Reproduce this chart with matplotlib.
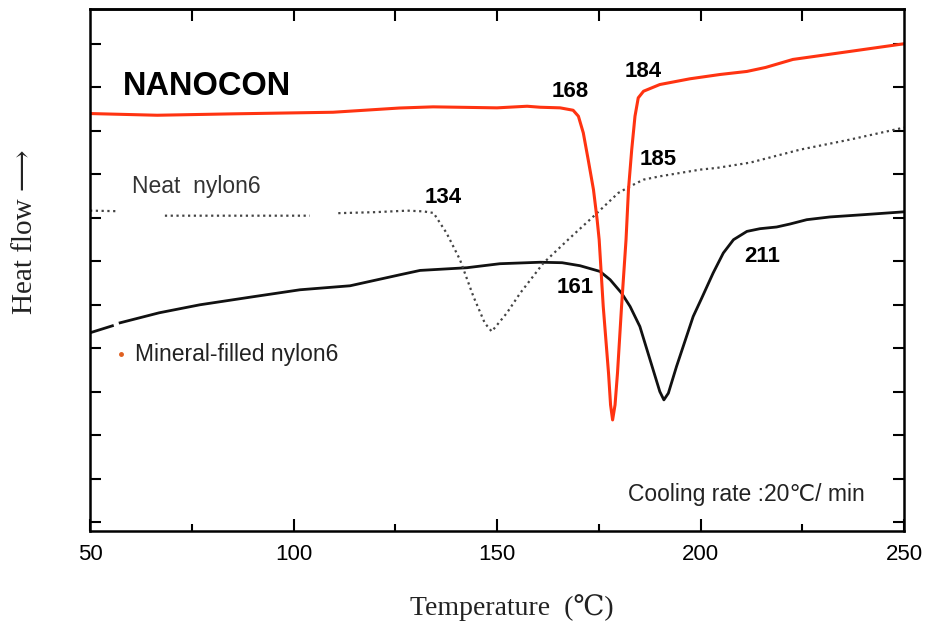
import numpy as np
from matplotlib import pyplot as plt

nan = np.nan

# NANOCON (red)
nano_t = [50, 66.5, 85, 109.7, 126, 134.3, 150, 157.4, 160.6, 165.5, 168.7, 170, 171.2, 172.4,
          173.7, 174.6, 175.1, 176.1, 177.4, 177.9, 178.4, 179.0, 179.6, 180.6, 181.7, 182.3,
          183.1, 183.9, 184.7, 186, 190, 197.4, 204.8, 211.4, 216, 222.7, 236.7, 250]
nano_h = [9.397, 9.358, 9.390, 9.427, 9.524, 9.551, 9.528, 9.565, 9.542, 9.528, 9.473, 9.335,
          8.953, 8.338, 7.648, 6.957, 6.497, 4.962, 3.429, 2.700, 2.354, 2.700, 3.429, 4.962,
          6.497, 7.648, 8.569, 9.335, 9.758, 9.910, 10.064, 10.196, 10.295, 10.365, 10.457,
          10.641, 10.825, 11.001]

# Neat nylon6 (dotted, with gaps)
neat_t = [50, 56.5, nan, 68.4, 85, 104, nan, 111, 120, 128, 131.9, 134.4, 137.6, 140.9, 144.2,
          147, 148.7, 152.4, 155.7, 161.4, 167.9, 173.7, 179.8, 182.7, 186, 190, 199.9, 204,
          212.2, 224.5, 236.7, 250]
neat_h = [7.165, 7.153, nan, 7.049, 7.049, 7.049, nan, 7.107, 7.130, 7.165, 7.148, 7.112, 6.651,
          6.037, 5.192, 4.580, 4.387, 4.810, 5.270, 5.961, 6.536, 7.033, 7.572, 7.724, 7.878,
          7.954, 8.108, 8.147, 8.269, 8.568, 8.798, 9.074]

# Mineral-filled nylon6 (black)
mine_t = [50, 55.5, nan, 57.4, 67, 77, 90, 101.6, 113.9, 126.2, 131.1, 142.6, 150.7, 160.6, 166,
          170.4, 175.3, 177.8, 180.6, 182.7, 185.1, 190, 191, 192.1, 194.1, 198.2,
          200.3, 203.1, 205.6, 208.1, 211.4, 214.6, 218.7, 222, 226.1, 231.8, 240, 250]
mine_h = [4.357, 4.518, nan, 4.587, 4.817, 5.001, 5.185, 5.346, 5.438, 5.692, 5.791, 5.853,
          5.945, 5.979, 5.968, 5.899, 5.768, 5.577, 5.270, 4.962, 4.502, 3.006,
          2.815, 2.969, 3.581, 4.732, 5.155, 5.731, 6.191, 6.497, 6.688, 6.750, 6.789, 6.858,
          6.957, 7.020, 7.072, 7.138]

peak_labels = ['168', '184', '185', '134', '161', '211']
peak_x = [167.9, 185.9, 189.6, 136.7, 169.2, 215.1]
peak_y = [9.907, 10.367, 8.34, 7.46, 5.39, 6.11]

x_ticks = [50, 100, 150, 200, 250]

sans = ['Liberation Sans', 'DejaVu Sans']
serif = ['Liberation Serif', 'DejaVu Serif']

fig = plt.figure(figsize=(9.27, 6.26), dpi=100)
ax = fig.add_axes([0.0971, 0.151, 0.8781, 0.8346])

ax.plot(mine_t, mine_h, color='#111111', lw=2.0, solid_joinstyle='round')
ax.plot(neat_t, neat_h, color='#444444', lw=1.6, linestyle=(0, (1, 1.6)))
ax.plot(nano_t, nano_h, color='#ff3311', lw=2.2, solid_joinstyle='round')
ax.plot([57.6], [3.876], marker='o', ms=2.5, color='#e06020', ls='none')

for lab, px, py in zip(peak_labels, peak_x, peak_y):
    ax.text(px, py, lab, ha='center', va='center', fontsize=16, fontweight='bold', family=sans)

ax.text(58.1, 10.02, 'NANOCON', ha='left', va='center', fontsize=23.5, fontweight='bold', family=sans)
ax.text(60.3, 7.72, 'Neat  nylon6', ha='left', va='center', fontsize=16.5, color='#333333', family=sans)
ax.text(61.1, 3.855, 'Mineral-filled nylon6', ha='left', va='center', fontsize=16.5, color='#222222', family=sans)
ax.text(182.2, 0.63, 'Cooling rate :20℃/ min', ha='left', va='center', fontsize=16.5, color='#222222', family=sans)

ax.set_xlim(50, 250)
ax.set_ylim(-0.21, 11.8)
ax.set_xticks(x_ticks)
ax.set_xticks([75, 125, 175, 225], minor=True)
ax.set_yticks(range(12))
ax.tick_params(axis='x', which='major', direction='in', length=8.5, width=1.5, pad=9, labelsize=16)
ax.tick_params(axis='x', which='minor', direction='in', length=5, width=1.5)
ax.tick_params(axis='y', direction='in', length=8, width=1.5, left=True, right=True, labelleft=False)
for lab in ax.get_xticklabels():
    lab.set_family(sans)

top = ax.secondary_xaxis('top')
top.set_xticks([75, 100, 125, 150, 175, 200, 225])
top.tick_params(direction='in', length=8.5, width=1.5, labeltop=False)
top.spines['top'].set_linewidth(1.8)

for s in ax.spines.values():
    s.set_linewidth(1.8)

fig.text(25 / 927, 1 - 232 / 626, 'Heat flow ⟶', rotation=90, ha='center', va='center',
         fontsize=21, family=serif, color='#222222')
fig.text(512 / 927, 1 - 608 / 626, 'Temperature  (℃)', ha='center', va='center',
         fontsize=20, family=serif, color='#222222')

plt.savefig('out.png', dpi=100)
